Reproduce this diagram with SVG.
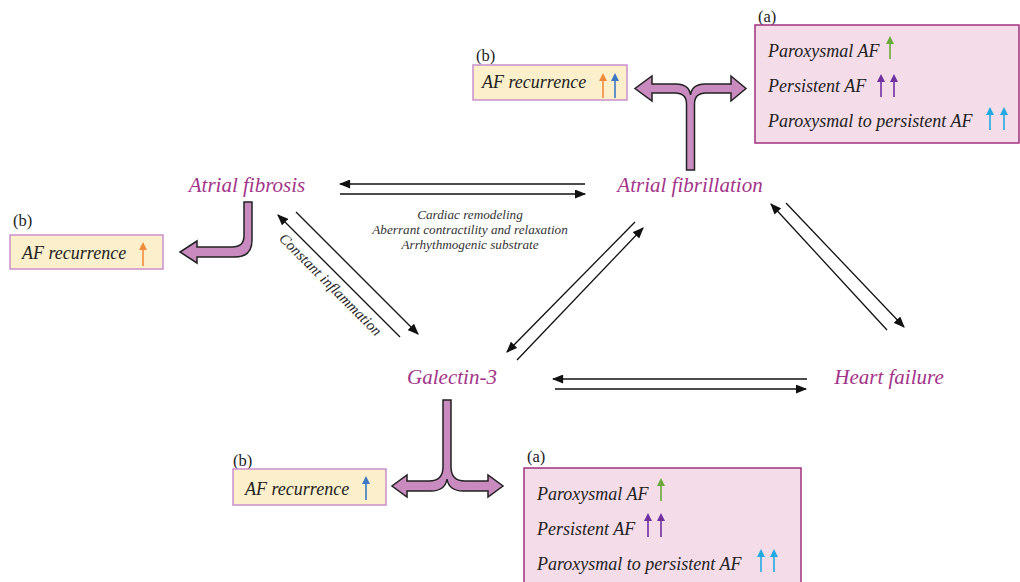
<svg xmlns="http://www.w3.org/2000/svg" width="1020" height="582" viewBox="0 0 1020 582">
<style>
.node{font-family:"Liberation Serif",serif;font-style:italic;font-size:21px;fill:#a3348a}
.bt{font-family:"Liberation Serif",serif;font-style:italic;font-size:18px;fill:#222}
.lab{font-family:"Liberation Serif",serif;font-size:16.5px;fill:#222}
.sm{font-family:"Liberation Serif",serif;font-style:italic;font-size:13.2px;fill:#333}
.ci{font-family:"Liberation Serif",serif;font-style:italic;font-size:15px;fill:#222}
.boxa{fill:#f5dce9;stroke:#a0307f;stroke-width:1.5}
.boxb{fill:#fcf0cc;stroke:#cc8fcc;stroke-width:1.5}
.big{fill:#c98bbf;stroke:#222;stroke-width:1.5;stroke-linejoin:miter}
.thin{stroke:#111;stroke-width:1.3;fill:none;marker-end:url(#ah)}
</style>
<defs>
<marker id="ah" viewBox="0 0 10 8" refX="9" refY="4" markerWidth="12" markerHeight="9" orient="auto" markerUnits="userSpaceOnUse"><path d="M0,0 L10,4 L0,8 Z" fill="#111"/></marker>
</defs>
<rect width="1020" height="582" fill="#fff"/>

<g id="connectors">
<line class="thin" x1="585" y1="184" x2="340" y2="184"/>
<line class="thin" x1="340" y1="194" x2="585" y2="194"/>
<line class="thin" x1="400" y1="337" x2="278" y2="215"/>
<line class="thin" x1="296" y1="212" x2="418" y2="334"/>
<line class="thin" x1="635" y1="222" x2="507" y2="352"/>
<line class="thin" x1="517" y1="360" x2="643" y2="228"/>
<line class="thin" x1="887" y1="330" x2="771" y2="204"/>
<line class="thin" x1="786" y1="203" x2="904" y2="327"/>
<line class="thin" x1="807" y1="379" x2="553" y2="379"/>
<line class="thin" x1="555" y1="389" x2="806" y2="389"/>
<path class="big" d="M686.5 170 L686.5 104 Q686.5 93 675 93 L652 93 L652 101 L635 88.5 L652 76 L652 84 L676 84 Q689 84 690.5 95 Q692 84 705 84 L731 84 L731 76 L746 88.5 L731 101 L731 93 L706 93 Q694.5 93 694.5 104 L694.5 170 Z"/>
<path class="big" d="M244 202 L252 202 L252 240 Q252 257 235 257 L197 257 L197 263 L180 252 L197 241 L197 247 L232 247 Q244 247 244 236 Z"/>
<path class="big" d="M443 400 L451 400 L451 467 Q451 481 465 481 L488 481 L488 475 L503 486 L488 497 L488 491 L463 491 Q449 491 447 479 Q445 491 431 491 L407 491 L407 497 L392 486 L407 475 L407 481 L429 481 Q443 481 443 467 Z"/>
<text class="sm" text-anchor="middle"><tspan x="470" y="219">Cardiac remodeling</tspan><tspan x="470" y="234">Aberrant contractility and relaxation</tspan><tspan x="470" y="249">Arrhythmogenic substrate</tspan></text>
<text class="ci" text-anchor="middle" transform="translate(327,288) rotate(45)">Constant inflammation</text>
</g>

<g id="n-fibrosis"><text class="node" x="247" y="192" text-anchor="middle">Atrial fibrosis</text></g>
<g id="n-fibrillation"><text class="node" x="690" y="192" text-anchor="middle">Atrial fibrillation</text></g>
<g id="n-galectin"><text class="node" x="452" y="384" text-anchor="middle">Galectin-3</text></g>
<g id="n-hf"><text class="node" x="889" y="384" text-anchor="middle">Heart failure</text></g>

<g id="box-top-a">
<text class="lab" x="758" y="22">(a)</text>
<rect class="boxa" x="755" y="25" width="264" height="118"/>
<text class="bt" x="768" y="57">Paroxysmal AF</text>
<text class="bt" x="768" y="92">Persistent AF</text>
<text class="bt" x="768" y="127">Paroxysmal to persistent AF</text>
<g stroke-width="1.6">
<line x1="890" y1="59" x2="890" y2="42" stroke="#6aaa3a"/><path d="M886 44 L890 36 L894 44 Z" fill="#6aaa3a"/>
<line x1="881" y1="97" x2="881" y2="80" stroke="#7030a0"/><path d="M877 82 L881 74 L885 82 Z" fill="#7030a0"/>
<line x1="894" y1="97" x2="894" y2="80" stroke="#7030a0"/><path d="M890 82 L894 74 L898 82 Z" fill="#7030a0"/>
<line x1="990" y1="130" x2="990" y2="113" stroke="#22a9e1"/><path d="M986 115 L990 107 L994 115 Z" fill="#22a9e1"/>
<line x1="1004" y1="130" x2="1004" y2="113" stroke="#22a9e1"/><path d="M1000 115 L1004 107 L1008 115 Z" fill="#22a9e1"/>
</g>
</g>

<g id="box-top-b">
<text class="lab" x="476" y="61">(b)</text>
<rect class="boxb" x="473" y="65" width="154" height="35"/>
<text class="bt" x="482" y="88">AF recurrence</text>
<g stroke-width="1.6">
<line x1="603" y1="98" x2="603" y2="79" stroke="#f08a3c"/><path d="M599 81 L603 73 L607 81 Z" fill="#f08a3c"/>
<line x1="615" y1="98" x2="615" y2="79" stroke="#3c78c2"/><path d="M611 81 L615 73 L619 81 Z" fill="#3c78c2"/>
</g>
</g>

<g id="box-left-b">
<text class="lab" x="13" y="226">(b)</text>
<rect class="boxb" x="10" y="235" width="153" height="34"/>
<text class="bt" x="22" y="259">AF recurrence</text>
<g stroke-width="1.6">
<line x1="143" y1="266" x2="143" y2="248" stroke="#f08a3c"/><path d="M139 250 L143 242 L147 250 Z" fill="#f08a3c"/>
</g>
</g>

<g id="box-bottom-b">
<text class="lab" x="233" y="466">(b)</text>
<rect class="boxb" x="233" y="469" width="153" height="36"/>
<text class="bt" x="245" y="495">AF recurrence</text>
<g stroke-width="1.6">
<line x1="366" y1="500" x2="366" y2="482" stroke="#3c78c2"/><path d="M362 484 L366 476 L370 484 Z" fill="#3c78c2"/>
</g>
</g>

<g id="box-bottom-a">
<text class="lab" x="527" y="462">(a)</text>
<rect class="boxa" x="524" y="468" width="277" height="120"/>
<text class="bt" x="537" y="500">Paroxysmal AF</text>
<text class="bt" x="537" y="535">Persistent AF</text>
<text class="bt" x="537" y="570">Paroxysmal to persistent AF</text>
<g stroke-width="1.6">
<line x1="661" y1="501" x2="661" y2="484" stroke="#6aaa3a"/><path d="M657 486 L661 478 L665 486 Z" fill="#6aaa3a"/>
<line x1="648" y1="537" x2="648" y2="519" stroke="#7030a0"/><path d="M644 521 L648 513 L652 521 Z" fill="#7030a0"/>
<line x1="661" y1="537" x2="661" y2="519" stroke="#7030a0"/><path d="M657 521 L661 513 L665 521 Z" fill="#7030a0"/>
<line x1="761" y1="572" x2="761" y2="555" stroke="#22a9e1"/><path d="M757 557 L761 549 L765 557 Z" fill="#22a9e1"/>
<line x1="774" y1="572" x2="774" y2="555" stroke="#22a9e1"/><path d="M770 557 L774 549 L778 557 Z" fill="#22a9e1"/>
</g>
</g>
</svg>
